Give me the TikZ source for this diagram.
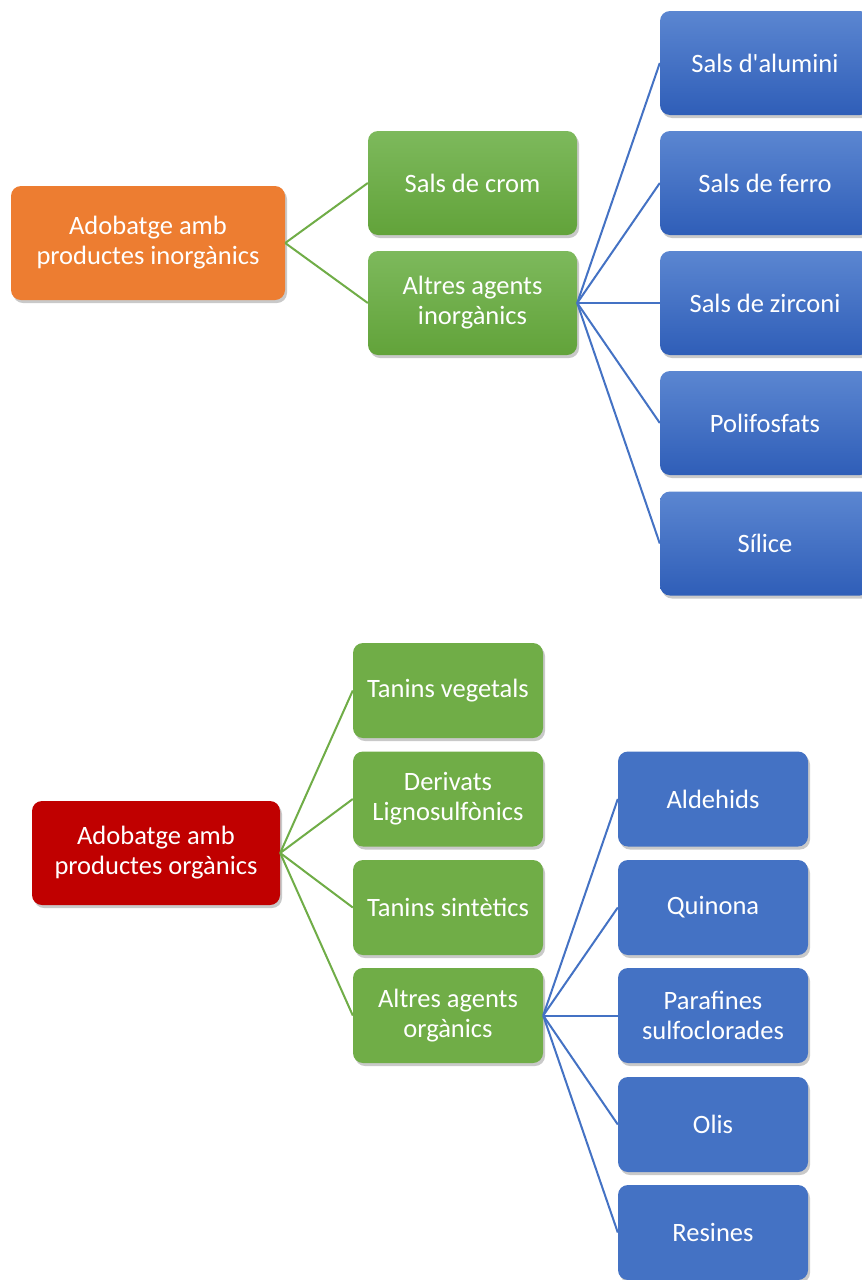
\documentclass[tikz,border=0pt]{standalone}
\usepackage{fontspec}
\setmainfont{Carlito}[Ligatures=TeXOff]
\usetikzlibrary{shadows}
\definecolor{orangeC}{HTML}{ED7D31}
\definecolor{redC}{HTML}{C00000}
\definecolor{greenC}{HTML}{70AD47}
\definecolor{greenT}{HTML}{7DB95C}
\definecolor{greenB}{HTML}{62A33A}
\definecolor{blueC}{HTML}{4472C4}
\definecolor{blueT}{HTML}{5B86D1}
\definecolor{blueB}{HTML}{2F5EB8}
\tikzset{
  box/.style={rounded corners=10pt, inner sep=0pt, align=center, text=white,
    font=\fontsize{26.5}{30}\selectfont,
    drop shadow={shadow xshift=2pt, shadow yshift=-3pt, opacity=0.35, fill=black!60}},
  orangebox/.style={box, fill=orangeC, minimum width=274pt, minimum height=114pt},
  redbox/.style={box, fill=redC, minimum width=248pt, minimum height=104pt},
  gtop/.style={box, top color=greenT, bottom color=greenB, minimum width=209pt, minimum height=104pt},
  btop/.style={box, top color=blueT, bottom color=blueB, minimum width=210pt, minimum height=104pt},
  gbot/.style={box, fill=greenC, minimum width=190pt, minimum height=95pt},
  bbot/.style={box, fill=blueC, minimum width=190pt, minimum height=95pt},
  gline/.style={draw=greenC, line width=2pt},
  bline/.style={draw=blueC, line width=2pt}
}
\begin{document}
\begin{tikzpicture}[x=1pt,y=-1pt]
\useasboundingbox[fill=white] (0,0) rectangle (862,1280);
% top section
\node[orangebox] (o) at (148,243) {Adobatge amb\\productes inorgànics};
\node[gtop] (g1) at (472.5,183) {Sals de crom};
\node[gtop] (g2) at (472.5,303) {Altres agents\\inorgànics};
\node[btop] (b1) at (765,63) {Sals d'alumini};
\node[btop] (b2) at (765,183) {Sals de ferro};
\node[btop] (b3) at (765,303) {Sals de zirconi};
\node[btop] (b4) at (765,423) {Polifosfats};
\node[btop] (b5) at (765,543.5) {Sílice};
\foreach \g in {g1,g2} \draw[gline] (o.east) -- (\g.west);
\foreach \b in {b1,b2,b3,b4,b5} \draw[bline] (g2.east) -- (\b.west);
% bottom section
\node[redbox] (r) at (156,853) {Adobatge amb\\productes orgànics};
\node[gbot] (h1) at (448,690.5) {Tanins vegetals};
\node[gbot] (h2) at (448,799) {Derivats\\Lignosulfònics};
\node[gbot] (h3) at (448,907.5) {Tanins sintètics};
\node[gbot] (h4) at (448,1015.5) {Altres agents\\orgànics};
\node[bbot] (c1) at (713,799) {Aldehids};
\node[bbot] (c2) at (713,907.5) {Quinona};
\node[bbot] (c3) at (713,1015.5) {Parafines\\sulfoclorades};
\node[bbot] (c4) at (713,1124.5) {Olis};
\node[bbot] (c5) at (713,1232.5) {Resines};
\foreach \g in {h1,h2,h3,h4} \draw[gline] (r.east) -- (\g.west);
\foreach \b in {c1,c2,c3,c4,c5} \draw[bline] (h4.east) -- (\b.west);
\end{tikzpicture}
\end{document}
